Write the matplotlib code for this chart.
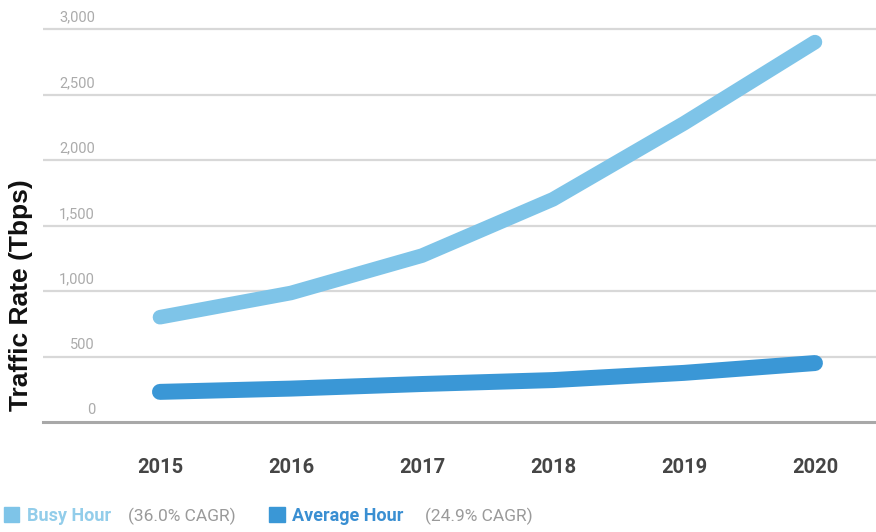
import matplotlib
matplotlib.use("Agg")
import matplotlib.pyplot as plt
from matplotlib.transforms import blended_transform_factory

# Werte (Tbps)
years = [2015, 2016, 2017, 2018, 2019, 2020]
busy_hour = [800, 985, 1270, 1700, 2280, 2900]
average_hour = [230, 255, 290, 320, 375, 450]
y_ticks = [0, 500, 1000, 1500, 2000, 2500, 3000]
y_tick_labels = ["0", "500", "1,000", "1,500", "2,000", "2,500", "3,000"]

busy_color = "#7ec4e8"
avg_color = "#3a97d6"

W, H = 876, 532
fig = plt.figure(figsize=(W / 100, H / 100), dpi=100)
ax = fig.add_axes([43 / W, 1 - 422 / H, 1 - 43 / W, (422 - 16) / H])

ax.set_xlim(2014.107, 2020.466)
ax.set_ylim(0, 3000 * 406 / 393)

# Gitterlinien und Grundlinie
for v in y_ticks[1:]:
    ax.axhline(v, color="#d8d8d8", lw=1.6, zorder=1)
ax.axhline(0, color="#a8a8a8", lw=2.2, zorder=1, clip_on=False)

ax.plot(years, busy_hour, color=busy_color, lw=10.5, solid_capstyle="round", zorder=3)
ax.plot(years, average_hour, color=avg_color, lw=11.5, solid_capstyle="round", zorder=3)

for s in ax.spines.values():
    s.set_visible(False)
ax.set_yticks([])
ax.set_xticks(years)
ax.tick_params(axis="x", length=0, pad=26)
for lbl in ax.get_xticklabels():
    lbl.set_fontfamily("Roboto")
    lbl.set_fontweight("bold")
    lbl.set_fontsize(14.5)
    lbl.set_color("#454545")

# y-Beschriftungen über den Gitterlinien
tr = blended_transform_factory(fig.transFigure, ax.transData)
for v, t in zip(y_ticks, y_tick_labels):
    ax.text(95 / W, v + 35, t, transform=tr, ha="right", va="bottom",
            fontsize=10.5, color="#ababab", family="Roboto")

fig.text(21 / W, 1 - 295 / H, "Traffic Rate (Tbps)", rotation=90, ha="center",
         va="center", fontsize=19, fontweight="bold", family="Liberation Sans",
         color="#111111")

# Legende unten
ly = 1 - 516 / H
fig.patches.append(plt.Rectangle((4 / W, 1 - 522 / H), 15 / W, 15 / H,
                                 transform=fig.transFigure, color=busy_color))
fig.patches.append(plt.Rectangle((269 / W, 1 - 522 / H), 16 / W, 15 / H,
                                 transform=fig.transFigure, color=avg_color))
fig.text(27 / W, ly, "Busy Hour", fontsize=13, fontweight="bold", color="#92cdea",
         family="Roboto", va="center")
fig.text(128 / W, ly, "(36.0% CAGR)", fontsize=12.5, color="#9a9a9a",
         family="Roboto", va="center")
fig.text(292 / W, ly, "Average Hour", fontsize=13, fontweight="bold", color="#3a8fd2",
         family="Roboto", va="center")
fig.text(425 / W, ly, "(24.9% CAGR)", fontsize=12.5, color="#9a9a9a",
         family="Roboto", va="center")

fig.savefig("out.png", dpi=100)
